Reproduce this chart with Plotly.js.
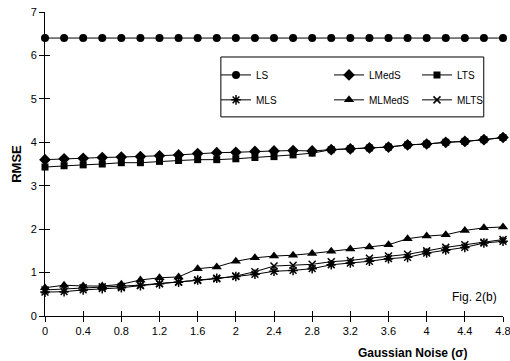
<!DOCTYPE html>
<html><head><meta charset="utf-8">
<script src="https://cdn.plot.ly/plotly-3.0.1.min.js"></script>
<style>body{margin:0;background:#fff}#chart{width:510px;height:361px}</style>
</head><body><div id="chart"></div>
<script>
const noise = [0,0.2,0.4,0.6,0.8,1.0,1.2,1.4,1.6,1.8,2.0,2.2,2.4,2.6,2.8,3.0,3.2,3.4,3.6,3.8,4.0,4.2,4.4,4.6,4.8];
const lsVals = [6.4,6.4,6.4,6.4,6.4,6.4,6.4,6.4,6.4,6.4,6.4,6.4,6.4,6.4,6.4,6.4,6.4,6.4,6.4,6.4,6.4,6.4,6.4,6.4,6.4];
const lmedsVals = [3.60,3.62,3.63,3.65,3.66,3.67,3.69,3.71,3.74,3.76,3.77,3.79,3.80,3.81,3.80,3.83,3.85,3.87,3.89,3.94,3.96,4.00,4.02,4.06,4.11];
const ltsVals = [3.43,3.46,3.48,3.50,3.53,3.53,3.56,3.58,3.60,3.60,3.62,3.65,3.67,3.71,3.75,3.83,3.85,3.87,3.89,3.94,3.96,4.00,4.02,4.06,4.11];
const mlsVals = [0.55,0.56,0.60,0.63,0.65,0.70,0.74,0.78,0.83,0.87,0.91,0.96,1.03,1.05,1.09,1.18,1.22,1.26,1.32,1.35,1.45,1.52,1.58,1.68,1.72];
const mlmedsVals = [0.65,0.71,0.69,0.69,0.73,0.83,0.88,0.90,1.09,1.13,1.26,1.34,1.38,1.40,1.44,1.49,1.54,1.59,1.64,1.78,1.84,1.87,1.97,2.03,2.05];
const mltsVals = [0.60,0.62,0.65,0.67,0.68,0.71,0.75,0.78,0.82,0.86,0.92,1.02,1.15,1.17,1.19,1.25,1.28,1.33,1.38,1.42,1.50,1.58,1.64,1.70,1.76];
const xTickVals = [0,0.4,0.8,1.2,1.6,2.0,2.4,2.8,3.2,3.6,4.0,4.4,4.8];
const xTickText = ['0','0.4','0.8','1.2','1.6','2','2.4','2.8','3.2','3.6','4','4.4','4.8'];
const yTickVals = [0,1,2,3,4,5,6,7];

function tr(name, y, symbol, size, lw, legend) {
  return {
    type: 'scatter', mode: 'lines+markers', name: name, x: noise, y: y,
    cliponaxis: false, legend: legend,
    line: {color: '#000', width: 1},
    marker: {symbol: symbol, size: size, color: '#000', line: {color: '#000', width: lw}}
  };
}
const traces = [
  tr('LS', lsVals, 'circle', 8, 0, 'legend'),
  tr('LMedS', lmedsVals, 'diamond', 9, 0, 'legend2'),
  tr('LTS', ltsVals, 'square', 7, 0, 'legend3'),
  tr('MLS', mlsVals, 'asterisk-open', 8, 1.5, 'legend4'),
  tr('MLMedS', mlmedsVals, 'triangle-up', 9, 0, 'legend5'),
  tr('MLTS', mltsVals, 'x-thin-open', 7, 1.5, 'legend6'),
  {type:'scatter', x:[0], y:[0], xaxis:'x2', yaxis:'y2', mode:'markers', marker:{opacity:0}, showlegend:false, hoverinfo:'skip'}
];
const fam = 'Liberation Sans, Arial, sans-serif';
function leg(x, y) {
  return {x: x, y: y, orientation: 'v', xanchor: 'left', yanchor: 'middle',
    bgcolor: 'rgba(0,0,0,0)', borderwidth: 0, font: {family: fam, color: '#000', size: 10}};
}
const layout = {
  width: 510, height: 361,
  margin: {l: 45, r: 7, t: 12, b: 45, autoexpand: false},
  paper_bgcolor: '#fff', plot_bgcolor: '#fff',
  font: {family: fam, color: '#000', size: 11}, showlegend: true,
  xaxis: {range: [0, 4.8], tickvals: xTickVals, ticktext: xTickText, ticks: 'outside', ticklen: 5,
    tickcolor: '#000', showline: true, linecolor: '#000', linewidth: 1, showgrid: false, zeroline: false,
    ticklabeloverflow: 'allow', tickfont: {family: fam, color: '#000', size: 11}},
  yaxis: {range: [0, 7], tickvals: yTickVals, ticks: 'outside', ticklen: 5, tickcolor: '#000',
    showline: true, linecolor: '#000', linewidth: 1, showgrid: false, zeroline: false,
    ticklabeloverflow: 'allow', tickfont: {family: fam, color: '#000', size: 11},
    title: {text: '<b>RMSE</b>', font: {family: fam, size: 13, color: '#000'}, standoff: 6}},
  xaxis2: {overlaying: 'x', range: [0, 4.8], tickvals: xTickVals, ticks: 'inside', ticklen: 5,
    tickcolor: '#000', showticklabels: false, showline: false, showgrid: false, zeroline: false, anchor: 'y2'},
  yaxis2: {overlaying: 'y', range: [0, 7], tickvals: yTickVals, ticks: 'inside', ticklen: 5, tickcolor: '#000',
    showticklabels: false, showline: false, showgrid: false, zeroline: false, anchor: 'x2'},
  legend: leg(0.3734, 0.793),
  legend2: leg(0.6201, 0.793),
  legend3: leg(0.8122, 0.793),
  legend4: leg(0.3734, 0.711),
  legend5: leg(0.6201, 0.711),
  legend6: leg(0.8122, 0.711),
  shapes: [{type: 'rect', xref: 'paper', yref: 'paper', x0: 0.384, x1: 0.958, y0: 0.655, y1: 0.852,
    line: {color: '#000', width: 1}, fillcolor: 'rgba(0,0,0,0)'}],
  annotations: [
    {text: '<b>Gaussian Noise (σ)</b>', xref: 'paper', yref: 'paper', x: (413-45)/458, y: (316-353)/304,
     showarrow: false, xanchor: 'center', yanchor: 'middle', font: {family: fam, size: 12, color: '#000'}},
    {text: 'Fig. 2(b)', xref: 'paper', yref: 'paper', x: (474-45)/458, y: (316-297)/304,
     showarrow: false, xanchor: 'center', yanchor: 'middle', font: {family: fam, size: 12, color: '#000'}}
  ]
};
Plotly.newPlot('chart', traces, layout, {displayModeBar: false});
</script></body></html>
